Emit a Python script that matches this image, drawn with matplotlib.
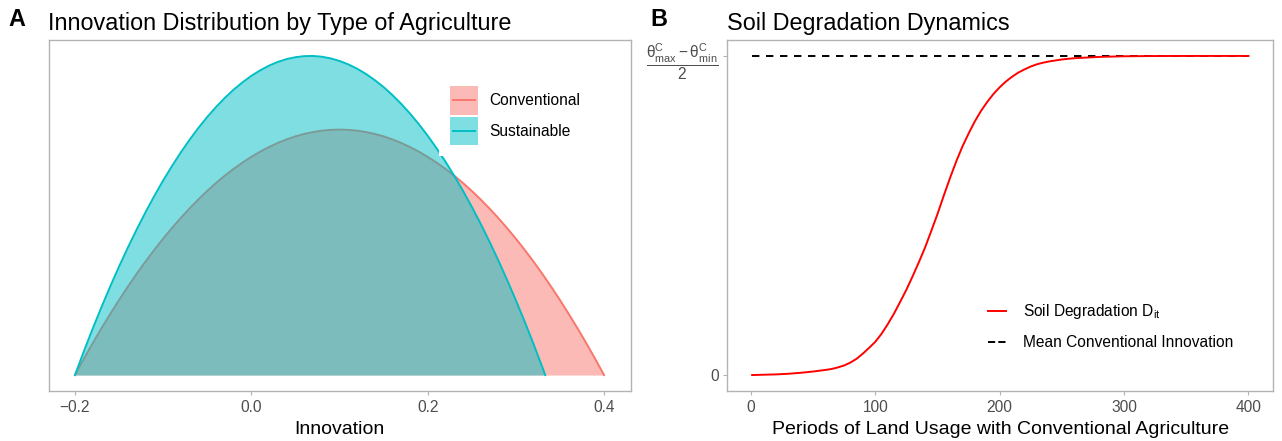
import matplotlib
matplotlib.use("Agg")
import matplotlib.pyplot as plt
from matplotlib.patches import Rectangle
from matplotlib.lines import Line2D
from matplotlib.legend_handler import HandlerBase

plt.rcParams['font.family'] = ['Liberation Sans', 'DejaVu Sans']
plt.rcParams['mathtext.fontset'] = 'custom'
plt.rcParams['mathtext.rm'] = 'Liberation Sans'
plt.rcParams['mathtext.it'] = 'Liberation Sans:italic'
plt.rcParams['mathtext.bf'] = 'Liberation Sans:bold'

## Panel A: innovation densities
innov_conv = [-0.20, -0.19, -0.18, -0.17, -0.16, -0.15, -0.14, -0.13, -0.12, -0.11,
              -0.10, -0.09, -0.08, -0.07, -0.06, -0.05, -0.04, -0.03, -0.02, -0.01,
              0.00, 0.01, 0.02, 0.03, 0.04, 0.05, 0.06, 0.07, 0.08, 0.09,
              0.10, 0.11, 0.12, 0.13, 0.14, 0.15, 0.16, 0.17, 0.18, 0.19,
              0.20, 0.21, 0.22, 0.23, 0.24, 0.25, 0.26, 0.27, 0.28, 0.29,
              0.30, 0.31, 0.32, 0.33, 0.34, 0.35, 0.36, 0.37, 0.38, 0.39, 0.40]
dens_conv = [0.0, 0.164, 0.322, 0.475, 0.622, 0.764, 0.900, 1.031, 1.156, 1.275,
             1.389, 1.497, 1.600, 1.697, 1.789, 1.875, 1.956, 2.031, 2.100, 2.164,
             2.222, 2.275, 2.322, 2.364, 2.400, 2.431, 2.456, 2.475, 2.489, 2.497,
             2.5, 2.497, 2.489, 2.475, 2.456, 2.431, 2.400, 2.364, 2.322, 2.275,
             2.222, 2.164, 2.100, 2.031, 1.956, 1.875, 1.789, 1.697, 1.600, 1.497,
             1.389, 1.275, 1.156, 1.031, 0.900, 0.764, 0.622, 0.475, 0.322, 0.164, 0.0]

innov_sust = [-0.20, -0.19, -0.18, -0.17, -0.16, -0.15, -0.14, -0.13, -0.12, -0.11,
              -0.10, -0.09, -0.08, -0.07, -0.06, -0.05, -0.04, -0.03, -0.02, -0.01,
              0.00, 0.01, 0.02, 0.03, 0.04, 0.05, 0.06, 0.07, 0.08, 0.09,
              0.10, 0.11, 0.12, 0.13, 0.14, 0.15, 0.16, 0.17, 0.18, 0.19,
              0.20, 0.21, 0.22, 0.23, 0.24, 0.25, 0.26, 0.27, 0.28, 0.29,
              0.30, 0.31, 0.32, 0.33, 0.3333]
dens_sust = [0.0, 0.239, 0.469, 0.690, 0.902, 1.105, 1.298, 1.482, 1.658, 1.824,
             1.981, 2.128, 2.267, 2.396, 2.517, 2.628, 2.730, 2.823, 2.907, 2.981,
             3.047, 3.103, 3.151, 3.189, 3.218, 3.237, 3.248, 3.250, 3.242, 3.225,
             3.199, 3.164, 3.120, 3.067, 3.004, 2.933, 2.852, 2.762, 2.663, 2.555,
             2.438, 2.311, 2.176, 2.031, 1.877, 1.714, 1.542, 1.360, 1.170, 0.970,
             0.762, 0.544, 0.317, 0.081, 0.0]

labels_a = ["Conventional", "Sustainable"]
xticks_a = [-0.2, 0.0, 0.2, 0.4]
xticklabels_a = ["\u22120.2", "0.0", "0.2", "0.4"]

## Panel B: soil degradation over periods
periods = [1, 10, 20, 30, 40, 50, 60, 65, 70, 75, 80, 85, 90, 95, 100, 105, 110,
           115, 120, 125, 130, 135, 140, 145, 150, 155, 160, 165, 170, 175, 180,
           185, 190, 195, 200, 205, 210, 215, 220, 225, 230, 235, 240, 245, 250,
           260, 270, 280, 290, 300, 320, 340, 360, 380, 400]
degradation = [0.001, 0.002, 0.003, 0.005, 0.008, 0.012, 0.017, 0.020, 0.025,
               0.031, 0.040, 0.052, 0.068, 0.086, 0.105, 0.130, 0.160, 0.193,
               0.230, 0.268, 0.310, 0.354, 0.400, 0.452, 0.505, 0.562, 0.617,
               0.669, 0.716, 0.757, 0.795, 0.828, 0.856, 0.881, 0.902, 0.920,
               0.935, 0.948, 0.958, 0.967, 0.974, 0.979, 0.983, 0.986, 0.989,
               0.993, 0.995, 0.997, 0.998, 0.999, 0.9997, 0.9999, 1.0, 1.0, 1.0]
mean_conv = 1.0
labels_b = [r"Soil Degradation D$_{\mathrm{it}}$", "Mean Conventional Innovation"]
xticks_b = [0, 100, 200, 300, 400]
yticks_b = [0, 1]
yticklabels_b = ["0", r"$\dfrac{\mathrm{\theta}^{\mathrm{C}}_{\mathrm{max}}-\mathrm{\theta}^{\mathrm{C}}_{\mathrm{min}}}{2}$"]

col_conv = "#F8766D"
col_sust = "#00BFC4"
frame = "#B3B3B3"
txt = "#4D4D4D"


class ChaveGG(HandlerBase):
    # legend key like ggplot: optional filled square with the line through its middle
    def __init__(self, preencher):
        super().__init__()
        self.preencher = preencher

    def create_artists(self, legend, orig, xdescent, ydescent, width, height,
                       fontsize, trans):
        arts = []
        if self.preencher:
            arts.append(Rectangle((-xdescent, -ydescent), width, height,
                                  facecolor=orig.get_color(), alpha=0.5, lw=0,
                                  transform=trans))
        yc = -ydescent + height / 2
        ln = Line2D([-xdescent + 2, -xdescent + width - 2], [yc, yc],
                    color=orig.get_color(), lw=orig.get_linewidth(),
                    linestyle=orig.get_linestyle(), transform=trans)
        arts.append(ln)
        return arts


W, H = 1282, 441
fig = plt.figure(figsize=(W / 100, H / 100), dpi=100)
axA = fig.add_axes([48.5 / W, 1 - 391 / H, 582 / W, 351 / H])
axB = fig.add_axes([727.3 / W, 1 - 391 / H, 546 / W, 351 / H])


def estilo(ax):
    for s in ax.spines.values():
        s.set_color(frame)
        s.set_linewidth(1.0)
    ax.tick_params(colors=frame, labelcolor=txt, labelsize=11.2, length=2.75,
                   width=0.8, pad=3.5)
    ax.margins(0.05)


# A
axA.fill_between(innov_conv, dens_conv, 0, color=col_conv, alpha=0.5, lw=0, zorder=1)
lc, = axA.plot(innov_conv, dens_conv, color=col_conv, lw=1.4, zorder=1.1)
axA.fill_between(innov_sust, dens_sust, 0, color=col_sust, alpha=0.5, lw=0, zorder=1.2)
ls, = axA.plot(innov_sust, dens_sust, color=col_sust, lw=1.4, zorder=1.3)
estilo(axA)
axA.set_xticks(xticks_a)
axA.set_xticklabels(xticklabels_a)
axA.set_yticks([])
axA.set_xlabel("Innovation", fontsize=14, labelpad=4.5)
axA.set_title("Innovation Distribution by Type of Agriculture", loc="left",
              fontsize=16.8, pad=7)

axA.legend([lc, ls], labels_a, handler_map={Line2D: ChaveGG(True)},
           loc="upper left", bbox_to_anchor=(0.671, 0.901), borderaxespad=0,
           fontsize=11.2, handlelength=1.82, handleheight=2.48,
           labelspacing=0.13, handletextpad=0.68, borderpad=0.7,
           frameon=True, fancybox=False, framealpha=1, facecolor="white",
           edgecolor="none")

# B
ld, = axB.plot(periods, [mean_conv] * len(periods), color="black", lw=1.4,
               linestyle=(0, (3.8, 3.4)))
lr, = axB.plot(periods, degradation, color="red", lw=1.4)
estilo(axB)
axB.set_xticks(xticks_b)
axB.set_yticks(yticks_b)
axB.set_yticklabels(yticklabels_b)
axB.set_xlabel("Periods of Land Usage with Conventional Agriculture", fontsize=14,
               labelpad=4.5)
axB.set_title("Soil Degradation Dynamics", loc="left", fontsize=16.8, pad=7)
axB.legend([lr, ld], labels_b, handler_map={Line2D: ChaveGG(False)},
           loc="upper left", bbox_to_anchor=(0.4733, 0.2692),
           borderaxespad=0, borderpad=0, fontsize=11.2, handlelength=1.51,
           handleheight=2.48, labelspacing=0.13, handletextpad=0.86, frameon=False)

fig.text(8 / W, 1 - 26 / H, "A", fontsize=16.8, fontweight="bold", va="baseline")
fig.text(650 / W, 1 - 26 / H, "B", fontsize=16.8, fontweight="bold", va="baseline")

fig.savefig("out.png", dpi=100)
